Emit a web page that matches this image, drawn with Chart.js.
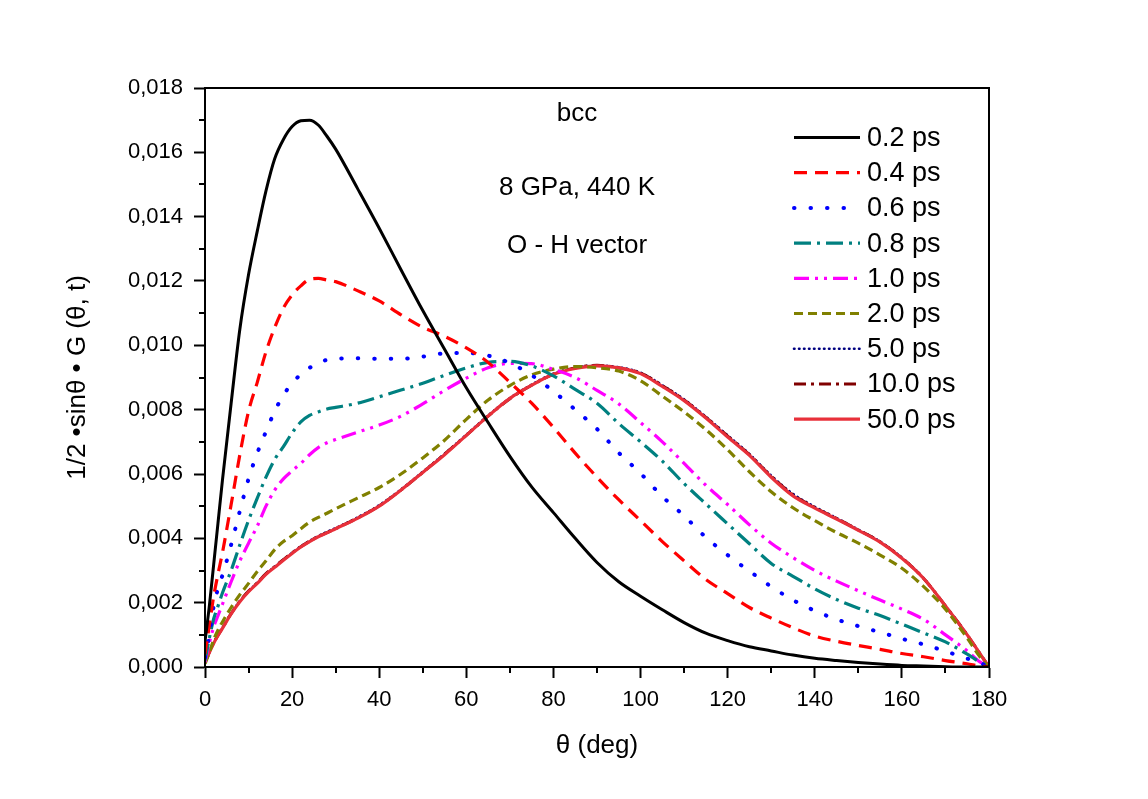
<!DOCTYPE html>
<html>
<head>
<meta charset="utf-8">
<script src="https://cdn.jsdelivr.net/npm/chart.js@4.4.1/dist/chart.umd.min.js"></script>
<style>
  html, body { margin: 0; padding: 0; background: #ffffff; }
  #wrap { width: 1148px; height: 799px; }
</style>
</head>
<body>
<div id="wrap"><canvas id="c" width="1148" height="799"></canvas></div>
<script>
// angle grid (deg)
const theta = [0,1,2,3,4,6,8,10,12,14,16,18,20,22,24,26,28,30,35,40,45,50,55,60,65,70,75,80,85,90,95,100,105,110,115,120,125,130,135,140,145,150,155,160,165,170,175,178,180];

// values in units of 1e-3
const s02 = [0.8,1.9,3.2,4.5,5.8,8.2,10.5,12.2,13.55,14.8,15.8,16.4,16.8,16.98,17.0,16.85,16.5,16.1,14.88,13.64,12.35,11.08,9.88,8.68,7.6,6.55,5.6,4.8,4.0,3.25,2.65,2.2,1.78,1.38,1.05,0.82,0.63,0.5,0.37,0.27,0.2,0.14,0.09,0.05,0.03,0.01,0.0,0.0,0.0];
const s04 = [0.4,1.3,2.2,2.9,3.55,5.05,6.6,7.95,8.85,9.8,10.55,11.16,11.57,11.85,12.05,12.08,12.03,11.98,11.7,11.38,10.95,10.56,10.28,9.92,9.47,8.85,8.2,7.45,6.65,5.9,5.2,4.55,3.9,3.3,2.72,2.28,1.85,1.52,1.22,0.96,0.8,0.67,0.55,0.42,0.32,0.2,0.1,0.03,0.0];
const s06 = [0.3,1.0,1.9,2.45,2.85,3.8,4.85,5.85,6.65,7.32,7.95,8.45,8.82,9.1,9.3,9.45,9.55,9.58,9.6,9.58,9.58,9.65,9.75,9.76,9.68,9.45,9.07,8.57,8.0,7.4,6.66,6.02,5.3,4.7,4.03,3.48,2.98,2.5,2.08,1.75,1.48,1.27,1.08,0.88,0.7,0.49,0.26,0.12,0.0];
const s08 = [0.2,0.9,1.5,1.9,2.3,3.0,3.8,4.56,5.25,5.9,6.45,6.85,7.28,7.62,7.82,7.93,8.02,8.07,8.2,8.4,8.61,8.82,9.07,9.3,9.47,9.5,9.36,9.05,8.63,8.2,7.57,7.0,6.4,5.7,5.07,4.45,3.83,3.22,2.82,2.43,2.1,1.83,1.6,1.33,1.06,0.78,0.4,0.14,0.0];
const s10 = [0.15,0.75,1.25,1.6,1.95,2.65,3.3,3.85,4.38,5.0,5.5,5.85,6.1,6.33,6.6,6.82,6.97,7.07,7.3,7.52,7.8,8.18,8.6,8.98,9.3,9.44,9.43,9.25,9.0,8.6,8.18,7.6,7.0,6.33,5.65,5.05,4.42,3.85,3.4,3.0,2.67,2.37,2.08,1.8,1.48,1.0,0.5,0.15,0.0];
const s20 = [0.1,0.45,0.85,1.15,1.4,1.85,2.25,2.6,2.97,3.3,3.65,3.9,4.08,4.3,4.5,4.65,4.78,4.92,5.25,5.58,6.0,6.5,7.05,7.7,8.3,8.75,9.08,9.26,9.34,9.3,9.2,8.9,8.42,7.93,7.38,6.75,6.07,5.45,4.95,4.55,4.18,3.85,3.48,3.07,2.5,1.8,0.9,0.3,0.0];
const s50p = [0.15,0.47,0.76,1.0,1.22,1.67,2.05,2.36,2.62,2.9,3.12,3.34,3.55,3.75,3.92,4.07,4.2,4.32,4.65,5.03,5.52,6.07,6.63,7.22,7.82,8.36,8.78,9.12,9.3,9.37,9.32,9.15,8.76,8.32,7.78,7.2,6.62,5.95,5.38,4.98,4.63,4.27,3.9,3.4,2.76,1.9,1.0,0.4,0.0];
const s100 = [0.15,0.46,0.75,0.99,1.21,1.66,2.05,2.36,2.62,2.9,3.12,3.34,3.55,3.74,3.91,4.06,4.18,4.3,4.63,5.01,5.5,6.05,6.62,7.2,7.8,8.34,8.76,9.1,9.3,9.38,9.3,9.14,8.75,8.3,7.76,7.18,6.6,5.93,5.35,4.96,4.62,4.26,3.89,3.39,2.75,1.9,1.0,0.4,0.0];
const s500 = [0.15,0.45,0.74,0.98,1.2,1.65,2.03,2.34,2.6,2.88,3.1,3.32,3.53,3.73,3.9,4.05,4.17,4.3,4.62,5.0,5.5,6.05,6.6,7.2,7.8,8.35,8.76,9.1,9.28,9.36,9.3,9.12,8.72,8.28,7.74,7.15,6.58,5.9,5.32,4.94,4.6,4.25,3.88,3.38,2.75,1.9,1.0,0.4,0.0];

const seriesLabels = ['0.2 ps','0.4 ps','0.6 ps','0.8 ps','1.0 ps','2.0 ps','5.0 ps','10.0 ps','50.0 ps'];
const seriesValues = [s02, s04, s06, s08, s10, s20, s50p, s100, s500];

const xTickLabels = ['0','20','40','60','80','100','120','140','160','180'];
const yTickLabels = ['0,000','0,002','0,004','0,006','0,008','0,010','0,012','0,014','0,016','0,018'];
const notes = ['bcc', '8 GPa, 440 K', 'O - H vector'];

const styles = [
  { color: '#000000', width: 3,   dash: [],               cap: 'butt',  order: 0 },
  { color: '#ff0000', width: 3.2, dash: [13, 8],          cap: 'butt',  order: 1 },
  { color: '#0000ff', width: 4,   dash: [0.5, 16],        cap: 'round', order: 2 },
  { color: '#008080', width: 3.2, dash: [17, 6, 3, 6],    cap: 'butt',  order: 3 },
  { color: '#ff00ff', width: 3.2, dash: [15, 6, 3, 6, 3, 6], cap: 'butt', order: 4 },
  { color: '#808000', width: 3.2, dash: [9, 5],           cap: 'butt',  order: 5 },
  { color: '#000080', width: 2.6, dash: [0.5, 4.5],       cap: 'round', order: 8 },
  { color: '#800000', width: 3,   dash: [12, 5, 3, 5],    cap: 'butt',  order: 7 },
  { color: '#e8303a', width: 3.2, dash: [],               cap: 'butt',  order: 6 }
];

const FONT = "'Liberation Sans', Arial, Helvetica, sans-serif";
Chart.defaults.font.family = FONT;
Chart.defaults.color = '#000000';

const datasets = seriesValues.map((vals, i) => ({
  label: seriesLabels[i],
  data: theta.map((t, k) => ({ x: t, y: vals[k] / 1000 })),
  borderColor: styles[i].color,
  backgroundColor: styles[i].color,
  borderWidth: styles[i].width,
  borderDash: styles[i].dash,
  borderCapStyle: styles[i].cap,
  borderJoinStyle: 'round',
  pointRadius: 0,
  fill: false,
  cubicInterpolationMode: 'monotone',
  order: styles[i].order
}));

const MINOR_LEN = 6;
const isMajorX = (v) => Math.round(v) % 20 === 0;
const isMajorY = (v) => Math.round(v * 1000) % 2 === 0;

const overlay = {
  id: 'overlay',
  afterDraw(chart) {
    const ctx = chart.ctx;
    const a = chart.chartArea;
    const xs = chart.scales.x, ys = chart.scales.y;
    ctx.save();
    // minor ticks (shorter), positioned through the scales
    ctx.strokeStyle = '#000';
    ctx.lineWidth = 2;
    ctx.setLineDash([]);
    ctx.beginPath();
    xs.ticks.forEach(t => {
      if (!isMajorX(t.value)) {
        const px = Math.round(xs.getPixelForValue(t.value));
        ctx.moveTo(px, a.bottom);
        ctx.lineTo(px, a.bottom + MINOR_LEN);
      }
    });
    ys.ticks.forEach(t => {
      if (!isMajorY(t.value)) {
        const py = Math.round(ys.getPixelForValue(t.value));
        ctx.moveTo(a.left, py);
        ctx.lineTo(a.left - MINOR_LEN, py);
      }
    });
    ctx.stroke();
    // frame
    ctx.strokeRect(a.left, a.top, a.right - a.left, a.bottom - a.top);
    // notes
    ctx.fillStyle = '#000';
    ctx.font = '26px ' + FONT;
    ctx.textAlign = 'center';
    ctx.textBaseline = 'alphabetic';
    const noteY = [121, 195, 253];
    notes.forEach((n, i) => ctx.fillText(n, 577, noteY[i]));
    // legend
    const x0 = 794, x1 = 860, tx = 867, y0 = 137.5, dy = 35.2;
    chart.data.datasets.forEach((ds, i) => {
      const y = y0 + i * dy;
      ctx.beginPath();
      ctx.strokeStyle = ds.borderColor;
      ctx.lineWidth = ds.borderWidth;
      ctx.lineCap = ds.borderCapStyle;
      ctx.setLineDash(ds.borderDash);
      ctx.moveTo(x0, y);
      ctx.lineTo(x1, y);
      ctx.stroke();
      ctx.setLineDash([]);
      ctx.fillStyle = '#000';
      ctx.textAlign = 'left';
      ctx.textBaseline = 'middle';
      ctx.font = '27px ' + FONT;
      ctx.fillText(ds.label, tx, y + 1);
    });
    ctx.restore();
  }
};

new Chart(document.getElementById('c'), {
  type: 'line',
  data: { datasets },
  options: {
    responsive: false,
    devicePixelRatio: 1,
    animation: false,
    events: [],
    layout: { padding: { left: 60, top: 88, right: 159, bottom: 0 } },
    plugins: { legend: { display: false }, tooltip: { enabled: false } },
    scales: {
      x: {
        type: 'linear',
        min: 0, max: 180,
        afterFit(s) { s.height = 132; },
        border: { display: true, color: '#000', width: 2 },
        grid: {
          drawOnChartArea: false, drawTicks: true, tickLength: 11, tickWidth: 2,
          tickColor: (c) => (c.tick && !isMajorX(c.tick.value)) ? 'rgba(0,0,0,0)' : '#000'
        },
        ticks: {
          stepSize: 10,
          autoSkip: false,
          maxRotation: 0,
          padding: 9,
          font: { size: 22 },
          color: '#000',
          callback(v) { return isMajorX(v) ? xTickLabels[Math.round(v) / 20] : ''; }
        },
        title: { display: true, text: 'θ (deg)', font: { size: 26 }, color: '#000', padding: { top: 0, bottom: 38 } }
      },
      y: {
        type: 'linear',
        min: 0, max: 0.018,
        afterFit(s) { s.width = 145; },
        border: { display: true, color: '#000', width: 2 },
        grid: {
          drawOnChartArea: false, drawTicks: true, tickLength: 11, tickWidth: 2,
          tickColor: (c) => (c.tick && !isMajorY(c.tick.value)) ? 'rgba(0,0,0,0)' : '#000'
        },
        ticks: {
          stepSize: 0.001,
          autoSkip: false,
          padding: 11,
          font: { size: 22 },
          color: '#000',
          callback(v) { return isMajorY(v) ? yTickLabels[Math.round(v * 1000) / 2] : ''; }
        },
        title: { display: true, text: '1/2 •sinθ • G (θ, t)', font: { size: 26 }, color: '#000', padding: { top: 2, bottom: 0 } }
      }
    }
  },
  plugins: [overlay]
});
</script>
</body>
</html>
